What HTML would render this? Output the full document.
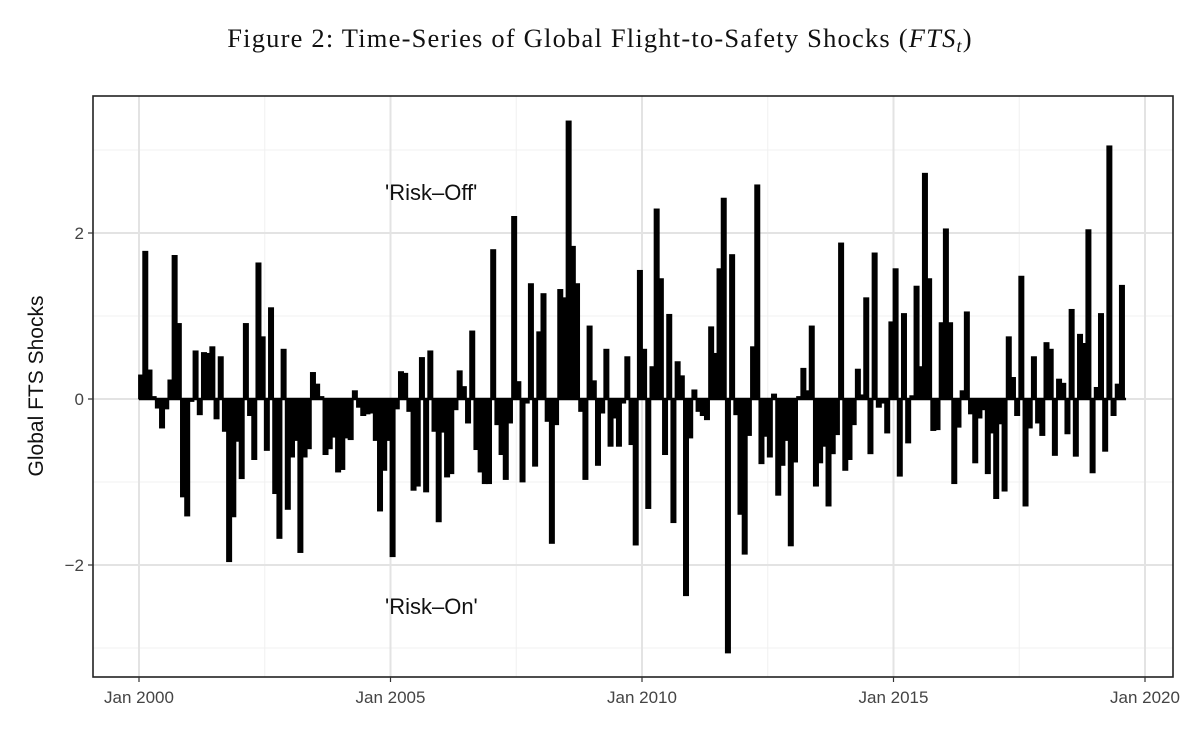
<!DOCTYPE html>
<html><head><meta charset="utf-8"><style>
body{margin:0;background:#fff;}
svg{display:block;}
</style></head><body>
<svg width="1200" height="735" viewBox="0 0 1200 735" xmlns="http://www.w3.org/2000/svg">
<text x="600" y="47" text-anchor="middle" font-family="Liberation Serif, serif" font-size="26.5" letter-spacing="1.2" fill="#111">Figure 2: Time-Series of Global Flight-to-Safety Shocks (<tspan font-style="italic">FTS</tspan><tspan font-style="italic" font-size="18" dy="5">t</tspan><tspan dy="-5">)</tspan></text>
<g id="grid"></g>
<g id="bars"></g>
<rect x="93" y="96" width="1080" height="581" fill="none" stroke="#222" stroke-width="1.6"/>
<g id="axes"></g>
<text x="385" y="200" font-family="Liberation Sans, sans-serif" font-size="22" fill="#111">'Risk–Off'</text>
<text x="385" y="614" font-family="Liberation Sans, sans-serif" font-size="22" fill="#111">'Risk–On'</text>
<text transform="translate(43,386) rotate(-90)" text-anchor="middle" font-family="Liberation Sans, sans-serif" font-size="21" fill="#111">Global FTS Shocks</text>
</svg>
<script>
const startYear = 2000;
const fts = [
0.29,1.78,0.35,0.03,-0.11,-0.35,-0.12,0.23,1.73,0.91,-1.18,-1.41,
-0.03,0.58,-0.19,0.56,0.55,0.63,-0.24,0.51,-0.39,-1.96,-1.42,-0.51,
-0.96,0.91,-0.2,-0.73,1.64,0.75,-0.62,1.1,-1.14,-1.68,0.6,-1.33,
-0.7,-0.5,-1.85,-0.7,
-0.6,0.32,0.18,0.03,-0.67,-0.6,-0.46,-0.88,-0.85,-0.47,-0.49,0.1,-0.1,-0.2,-0.18,-0.17,-0.5,-1.35,-0.86,-0.5,-1.9,
-0.12,0.33,0.31,-0.15,-1.1,-1.05,0.5,-1.12,0.58,-0.39,-1.48,-0.4,-0.94,-0.9,-0.13,0.34,0.15,-0.29,0.82,
-0.61,-0.88,-1.02,-1.02,1.8,-0.31,-0.67,-0.97,-0.29,2.2,0.21,-1.0,-0.05,1.39,-0.81,0.81,1.27,-0.27,-1.74,-0.31,
1.32,1.22,3.35,1.84,1.39,-0.15,-0.97,0.88,0.22,-0.8,-0.17,0.6,-0.57,-0.23,-0.57,-0.05,0.51,-0.55,-1.76,1.55,
0.6,-1.32,0.39,2.29,1.45,-0.67,1.02,-1.49,0.45,0.28,-2.37,-0.47,0.11,-0.15,-0.2,-0.25,0.87,0.55,1.57,2.42,
-3.06,1.74,-0.19,-1.39,-1.87,-0.44,0.63,2.58,-0.78,-0.45,-0.7,0.06,-1.16,-0.8,-0.5,-1.77,-0.76,0.03,0.37,0.1,
0.88,-1.05,-0.77,-0.57,-1.29,-0.66,-0.43,1.88,-0.86,-0.73,-0.31,0.36,0.05,1.22,-0.66,1.76,-0.1,-0.05,-0.41,0.93,
1.57,-0.93,1.03,-0.53,0.04,1.36,0.39,2.72,1.45,-0.38,-0.37,0.92,2.05,0.92,-1.02,-0.34,0.1,1.05,-0.18,-0.77,
-0.23,-0.13,-0.9,-0.41,-1.2,-0.3,-1.11,0.75,0.26,-0.2,1.48,-1.29,-0.35,0.51,-0.29,-0.44,0.68,0.6,-0.68,0.24,
0.19,-0.42,1.08,-0.69,0.78,0.67,2.04,-0.89,0.14,1.03,-0.63,3.05,-0.2,0.18,1.37
];
const xTickYears = [2000,2005,2010,2015,2020];
const xTickLabels = ["Jan 2000","Jan 2005","Jan 2010","Jan 2015","Jan 2020"];
const yTicks = [-2,0,2];
const yTickLabels = ["\u22122","0","2"];
const yMinor = [-3,-1,1,3];

const NS="http://www.w3.org/2000/svg";
const X0=139, PXY=50.3, Y0=399, PYU=83;
function xs(t){return X0+(t-startYear)*PXY;}
function ys(v){return Y0-v*PYU;}
function mk(tag,attrs,parent){const e=document.createElementNS(NS,tag);for(const k in attrs)e.setAttribute(k,attrs[k]);parent.appendChild(e);return e;}
const grid=document.getElementById('grid'),bars=document.getElementById('bars'),axes=document.getElementById('axes');
mk('rect',{x:93,y:96,width:1080,height:581,fill:'#fff'},grid);
yMinor.forEach(v=>{const l=mk('line',{x1:93,x2:1173,y1:ys(v),y2:ys(v),stroke:'#f0f0f0','stroke-width':1},grid);

});
xTickYears.slice(0,-1).forEach(y=>{const l=mk('line',{x1:xs(y+2.5),x2:xs(y+2.5),y1:96,y2:677,stroke:'#f0f0f0','stroke-width':1},grid);

});
yTicks.forEach((v,i)=>{const l=mk('line',{x1:93,x2:1173,y1:ys(v),y2:ys(v),stroke:'#e3e3e3','stroke-width':2},grid);


mk('line',{x1:88,x2:93,y1:ys(v),y2:ys(v),stroke:'#333','stroke-width':1.2},axes);
const t=mk('text',{x:84,y:ys(v)+6,'text-anchor':'end','font-family':'Liberation Sans, sans-serif','font-size':17,fill:'#444'},axes);
t.textContent=yTickLabels[i];

});
xTickYears.forEach((y,i)=>{const l=mk('line',{x1:xs(y),x2:xs(y),y1:96,y2:677,stroke:'#e3e3e3','stroke-width':2},grid);


mk('line',{x1:xs(y),x2:xs(y),y1:677,y2:682,stroke:'#333','stroke-width':1.2},axes);
const t=mk('text',{x:xs(y),y:703,'text-anchor':'middle','font-family':'Liberation Sans, sans-serif','font-size':17,fill:'#444'},axes);
t.textContent=xTickLabels[i];

});
fts.forEach((v,i)=>{const cx=xs(startYear+(i+0.5)/12);const y=Math.min(ys(v),Y0),h=Math.abs(ys(v)-Y0);
const r=mk('rect',{x:cx-2.6,y:y,width:5.2,height:Math.max(h,1.5),fill:'#000',stroke:'#000','stroke-width':0.8},bars);

});
mk('line',{x1:xs(startYear),x2:xs(startYear+fts.length/12)+2,y1:Y0,y2:Y0,stroke:'#000','stroke-width':2.5},bars);
</script>
</body></html>
